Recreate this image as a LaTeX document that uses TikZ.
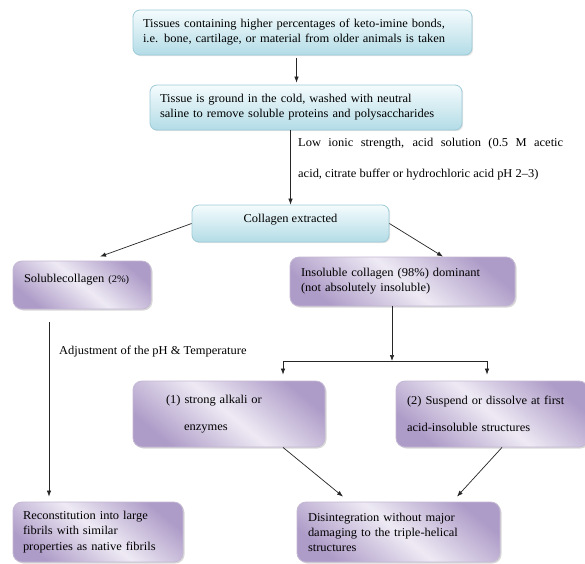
\documentclass[tikz,border=0pt]{standalone}
\usepackage{fontspec}
\setmainfont{Liberation Serif}[FakeStretch=1.04]
\usetikzlibrary{arrows.meta,shadows}
\definecolor{bluetop}{HTML}{F4FBFD}
\definecolor{bluebot}{HTML}{B3DCE6}
\definecolor{blueedge}{HTML}{9DCBD8}
\definecolor{purpledark}{HTML}{AE9CC8}
\definecolor{purplelight}{HTML}{EEEAF4}
\definecolor{purpleedge}{HTML}{C4B8D4}
\begin{document}
\begin{tikzpicture}[x=1pt,y=-1pt,
    every node/.style={font=\fontsize{12}{15}\selectfont},
    bluebox/.style={draw=blueedge, line width=0.8pt, rounded corners=7pt,
        top color=bluetop, bottom color=bluebot,
        drop shadow={shadow xshift=1.2pt, shadow yshift=-1.2pt, opacity=0.2},
        align=left, inner xsep=10pt},
    purplebox/.style={draw=purpleedge, line width=0.8pt, rounded corners=9pt,
        top color=purpledark, bottom color=purpledark, middle color=purplelight,
        shading angle=-40,
        drop shadow={shadow xshift=1.5pt, shadow yshift=-1.5pt, opacity=0.3},
        align=left, inner xsep=11pt},
    arr/.style={-{Latex[length=6pt,width=4.5pt]}, line width=0.7pt, draw=black!85}]
    \path[use as bounding box, fill=white] (0,0) rectangle (585,563);

    % upper part
    \node[bluebox, text width=319pt, minimum height=45pt] (top) at (302.5,32.5)
        {Tissues containing higher percentages of keto-imine bonds,\\
         i.e. bone, cartilage, or material\ from older animals is taken};
    \node[bluebox, text width=292pt, minimum height=45pt] (grind) at (306,107.5)
        {Tissue is ground in the cold, washed with neutral\\
         saline to remove soluble proteins and polysaccharides};
    \node[bluebox, align=center, minimum width=197pt, inner ysep=5pt,
        text height=12pt, text depth=15pt] (coll) at (290.5,223.5) {Collagen extracted};
    \node[anchor=north west, inner sep=0pt, text width=265pt, align=justify,
        font=\fontsize{12}{30.5}\selectfont] (acid) at (298,138)
        {Low ionic strength, acid solution (0.5 M acetic\linebreak
         acid, citrate buffer or hydrochloric acid pH 2--3)};

    % soluble / insoluble
    \node[purplebox, text width=116pt, inner ysep=5pt, text height=16pt,
        text depth=22pt] (sol) at (82,285)
        {Solublecollagen {\fontsize{10}{12}\selectfont(2\%)}};
    \node[purplebox, text width=203pt, minimum height=49pt] (insol) at (402.5,281.5)
        {Insoluble collagen (98\%) dominant\\(not absolutely insoluble)};
    \node[anchor=base west, inner sep=0pt] (adjust) at (59,354)
        {Adjustment of the pH \& Temperature};
    \coordinate (split) at (392,361);

    \node[purplebox, text width=126pt, inner xsep=33pt, minimum height=66pt] (alk) at (229,414)
        {(1) strong alkali or\\[12pt]\hspace*{18pt}enzymes};
    \node[purplebox, text width=170pt, minimum height=66pt] (susp) at (492,414)
        {(2) Suspend or dissolve at first\\[12pt]acid-insoluble structures};

    % bottom
    \node[purplebox, text width=150pt, inner xsep=10pt, minimum height=60pt,
        font=\fontsize{12}{15.5}\selectfont] (recon) at (98,532)
        {Reconstitution into large\\fibrils with similar\\properties as native\ fibrils};
    \node[purplebox, text width=181pt, minimum height=60pt,
        font=\fontsize{12}{15}\selectfont] (dis) at (398.5,532)
        {Disintegration without major\\damaging to the triple-helical\\structures};

    % connectors
    \draw[arr] ([xshift=-6pt,yshift=-3pt]top.south) -- ([xshift=-9.5pt,yshift=2pt]grind.north);
    \draw[arr] (coll.north |- grind.south) -- (coll.north);
    \draw[arr] (coll.west) -- ([xshift=18pt,yshift=4pt]sol.north);
    \draw[arr] (coll.east) -- ([xshift=40.5pt]insol.north);
    \draw[arr] (split |- insol.south) -- (split);
    \draw[arr] (split) -| ([xshift=54pt,yshift=6pt]alk.north);
    \draw[arr] (split) -| ([xshift=-5pt,yshift=6pt]susp.north);
    \draw[arr] ([xshift=-33pt,yshift=-13pt]sol.south) -- ([xshift=-49pt,yshift=5pt]recon.north);
    \draw[arr] ([xshift=54pt]alk.south) -- ([xshift=-55.5pt,yshift=5pt]dis.north);
    \draw[arr] ([xshift=10pt]susp.south) -- ([xshift=58.5pt,yshift=5pt]dis.north);
\end{tikzpicture}
\end{document}
